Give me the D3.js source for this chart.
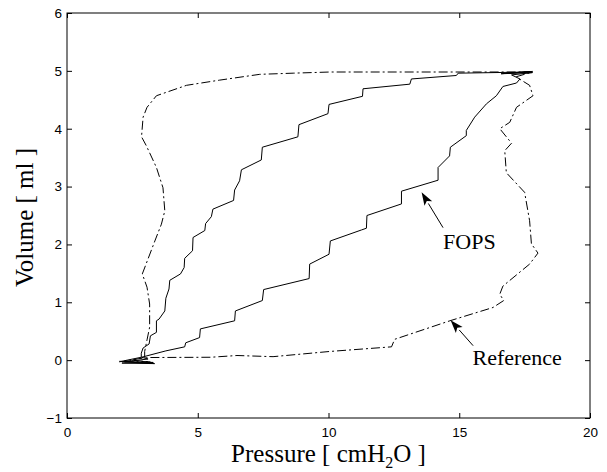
<!DOCTYPE html>
<html>
<head>
<meta charset="utf-8">
<script src="https://cdn.jsdelivr.net/npm/d3@7"></script>
<style>
  body { margin: 0; background: #fff; }
  .tick text { font-family: "Liberation Sans", Arial, sans-serif; font-size: 13.5px; fill: #000; }
  .tick line { stroke: #000; }
</style>
</head>
<body>
<svg id="chart" width="607" height="472"></svg>
<script>
// pressure / volume pairs
var fopsP = [2.0, 3.3, 2.1, 3.35, 2.2, 3.1, 2.85, 3.78, 4.50, 4.54, 5.07, 5.10, 6.41, 6.44, 7.47, 7.52, 9.26, 9.28, 10.02, 10.07,
  11.26, 11.45, 11.47, 12.79, 12.79, 14.19, 14.19, 14.63, 14.66, 15.27, 15.27, 15.59, 16.04, 16.42, 16.67, 17.19, 17.32,
  17.0, 17.8, 16.6, 17.8, 16.8, 17.7,
  14.96, 14.89, 13.17, 13.11, 11.32, 11.30, 10.02, 9.98, 8.87, 8.83, 7.47, 7.43, 6.67, 6.60, 6.41, 6.37, 5.58, 5.52,
  5.30, 5.27, 4.82, 4.80, 4.50, 4.48, 4.34, 3.93, 3.90, 3.78, 3.74, 3.52, 3.42, 3.42, 3.19, 3.14, 2.91, 2.84, 2.84, 2.3, 2.0];
var fopsV = [-0.02, -0.04, -0.05, -0.06, -0.03, 0.02, 0.05, 0.16, 0.23, 0.30, 0.39, 0.54, 0.68, 0.85, 1.03, 1.22, 1.41, 1.66, 1.83, 2.06,
  2.25, 2.28, 2.50, 2.70, 2.92, 3.11, 3.33, 3.53, 3.68, 3.88, 3.97, 4.20, 4.43, 4.57, 4.73, 4.79, 4.86,
  4.93, 4.97, 4.95, 4.99, 4.96, 4.98,
  4.96, 4.92, 4.86, 4.77, 4.69, 4.56, 4.42, 4.26, 4.07, 3.86, 3.68, 3.46, 3.29, 3.10, 2.94, 2.76, 2.61, 2.48,
  2.36, 2.24, 2.12, 1.89, 1.76, 1.60, 1.49, 1.38, 1.23, 1.07, 0.85, 0.71, 0.68, 0.48, 0.42, 0.28, 0.21, 0.12, 0.05, 0.0, -0.03];

var refP = [2.2, 3.2, 2.4, 3.04, 5.5, 6.5, 7.88, 10.05, 12.41, 12.53, 14.64, 16.29, 16.70, 16.55, 16.67, 17.69, 18.01, 17.76,
  17.69, 17.50, 16.80, 16.74, 17.0, 16.55, 16.93, 17.19, 17.82, 17.69, 17.3, 17.19, 17.8,
  10.05, 8.65, 7.37, 5.84, 4.57, 3.42, 3.06, 2.91, 2.85, 3.04, 3.42, 3.67, 3.74, 3.61, 3.36, 2.88, 3.06, 3.16, 3.16,
  3.06, 2.97, 2.97, 2.5];
var refV = [-0.01, -0.03, 0.0, 0.045, 0.05, 0.08, 0.06, 0.15, 0.23, 0.36, 0.68, 0.91, 1.03, 1.14, 1.28, 1.66, 1.85, 2.01,
  2.41, 2.90, 3.24, 3.62, 3.75, 4.00, 4.11, 4.37, 4.57, 4.75, 4.86, 4.90, 4.98,
  4.98, 4.96, 4.94, 4.84, 4.75, 4.57, 4.37, 4.20, 3.86, 3.70, 3.33, 2.98, 2.58, 2.35, 2.06, 1.49, 1.26, 0.97, 0.57,
  0.35, 0.15, 0.05, 0.0];

var xTicks = [0, 5, 10, 15, 20];
var yTicks = [-1, 0, 1, 2, 3, 4, 5, 6];

// annotations: [label, text x, text y, arrow tail x, tail y, tip x, tip y]
var notes = [
  ["FOPS", 14.38, 1.92, 14.38, 2.29, 13.56, 2.90],
  ["Reference", 15.51, -0.08, 15.53, 0.25, 14.67, 0.69]
];

var svg = d3.select("#chart"),
    margin = {top: 13, right: 17, bottom: 54, left: 67},
    width = +svg.attr("width") - margin.left - margin.right,
    height = +svg.attr("height") - margin.top - margin.bottom;

var x = d3.scaleLinear().domain([0, 20]).range([0, width]),
    y = d3.scaleLinear().domain([-1, 6]).range([height, 0]);

var g = svg.append("g")
    .attr("transform", "translate(" + margin.left + "," + margin.top + ")");

// axes with inward ticks on all four sides
g.append("g")
 .attr("transform", "translate(0," + height + ")")
 .call(d3.axisBottom(x).tickValues(xTicks).tickSizeInner(-5).tickSizeOuter(0).tickPadding(9))
 .call(function(a) { a.select(".domain").remove(); });

g.append("g")
 .call(d3.axisLeft(y).tickValues(yTicks).tickSizeInner(-5).tickSizeOuter(0).tickPadding(5)
   .tickFormat(function(d) { return d < 0 ? "\u2212" + Math.abs(d) : d; }))
 .call(function(a) { a.select(".domain").remove(); });

g.append("g")
 .call(d3.axisTop(x).tickValues(xTicks).tickSizeInner(-5).tickSizeOuter(0).tickFormat(""))
 .call(function(a) { a.select(".domain").remove(); });

g.append("g")
 .attr("transform", "translate(" + width + ",0)")
 .call(d3.axisRight(y).tickValues(yTicks).tickSizeInner(-5).tickSizeOuter(0).tickFormat(""))
 .call(function(a) { a.select(".domain").remove(); });

g.append("rect")
 .attr("width", width)
 .attr("height", height)
 .attr("fill", "none")
 .attr("stroke", "#000")
 .attr("stroke-width", 1);

var line = d3.line()
    .x(function(d) { return x(d[0]); })
    .y(function(d) { return y(d[1]); });

g.append("path")
 .datum(d3.zip(refP, refV))
 .attr("d", line)
 .attr("fill", "none")
 .attr("stroke", "#000")
 .attr("stroke-width", 1)
 .attr("stroke-dasharray", "9,3,2,3");

g.append("path")
 .datum(d3.zip(fopsP, fopsV))
 .attr("d", line)
 .attr("fill", "none")
 .attr("stroke", "#000")
 .attr("stroke-width", 1);

// arrows + labels
notes.forEach(function(n) {
    var x0 = x(n[3]), y0 = y(n[4]), x1 = x(n[5]), y1 = y(n[6]);
    var ang = Math.atan2(y1 - y0, x1 - x0), len = 13, w = 4.5;
    var bx = x1 - len * Math.cos(ang), by = y1 - len * Math.sin(ang);
    g.append("line")
     .attr("x1", x0).attr("y1", y0).attr("x2", bx).attr("y2", by)
     .attr("stroke", "#000").attr("stroke-width", 1);
    g.append("polygon")
     .attr("points", [
        [x1, y1],
        [bx + w * Math.sin(ang), by - w * Math.cos(ang)],
        [bx + 3 * Math.cos(ang), by + 3 * Math.sin(ang)],
        [bx - w * Math.sin(ang), by + w * Math.cos(ang)]
      ].map(function(p) { return p.join(","); }).join(" "))
     .attr("fill", "#000");
    g.append("text")
     .attr("x", x(n[1]))
     .attr("y", y(n[2]))
     .attr("font-family", "'Liberation Serif', 'Times New Roman', serif")
     .attr("font-size", "22px")
     .text(n[0]);
});

// axis titles
var xl = svg.append("text")
   .attr("x", margin.left + width / 2)
   .attr("y", 462)
   .attr("text-anchor", "middle")
   .attr("font-family", "'Liberation Serif', 'Times New Roman', serif")
   .attr("font-size", "25px");
xl.append("tspan").text("Pressure [ cmH");
xl.append("tspan").attr("font-size", "16px").attr("dy", 6).text("2");
xl.append("tspan").attr("dy", -6).text("O ]");

svg.append("text")
   .attr("transform", "translate(33," + (margin.top + height / 2 + 2) + ") rotate(-90)")
   .attr("text-anchor", "middle")
   .attr("font-family", "'Liberation Serif', 'Times New Roman', serif")
   .attr("font-size", "25px")
   .text("Volume [ ml ]");
</script>
</body>
</html>
